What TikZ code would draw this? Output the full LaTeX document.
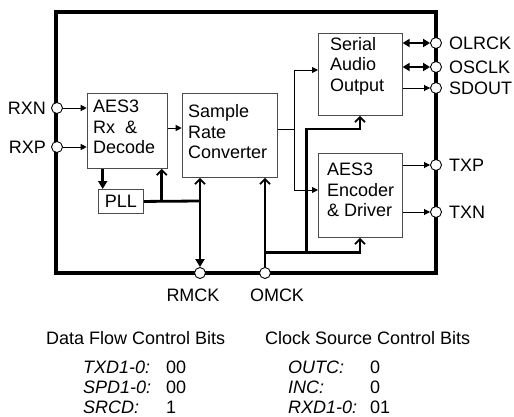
\documentclass[tikz,border=0pt]{standalone}
\usepackage{fontspec}
\setmainfont{Liberation Sans}
\usetikzlibrary{arrows.meta}
\begin{document}
\begin{tikzpicture}[x=1pt,y=-1pt,
  every node/.style={font=\fontsize{18}{20.5}\selectfont, inner sep=0pt},
  blk/.style={draw=black!70, line width=0.9pt, anchor=north west},
  pin/.style={circle, draw=black, fill=white, line width=0.9pt, minimum size=11pt},
  thinarr/.style={line width=0.9pt, -{Triangle[length=6pt,width=6pt]}},
  thinline/.style={line width=0.9pt},
  thickline/.style={line width=2.8pt},
  clkin/.style={line width=2.8pt, -{Straight Barb[length=5pt,width=10pt,line width=1.8pt]}},
  dblarr/.style={line width=2.8pt, {Triangle[length=7pt,width=8pt]}-{Triangle[length=7pt,width=8pt]}},
  lbl/.style={align=left, anchor=west},
  bits/.style={anchor=west, font=\fontsize{18}{20.5}\selectfont\itshape}
]
\useasboundingbox (0,0) rectangle (514,417);
% frame
\draw[line width=4.5pt] (56,12) rectangle (436,273);
% blocks
\node[blk, minimum width=80pt, minimum height=75pt] (aes) at (86.7,93) {};
\node[blk, minimum width=95pt, minimum height=84pt] (src) at (181.7,93) {};
\node[blk, minimum width=45pt, minimum height=24pt] (pll) at (98,189) {};
\node[blk, minimum width=83.7pt, minimum height=82pt] (sao) at (318,33) {};
\node[blk, minimum width=83.7pt, minimum height=84pt] (enc) at (318,153) {};
% block texts
\node[lbl] (aest) at (93,127) {AES3\\Rx\ \ \&\\Decode};
\node[lbl] (srct) at (188,132) {Sample\\Rate\\Converter};
\node (pllt) at (pll.center) {PLL};
\node[lbl] (saot) at (330,66) {Serial\\Audio\\Output};
\node[lbl] (enct) at (327,190) {AES3\\Encoder\\\& Driver};
% pins
\node[pin] (rxn) at (57,108) {};
\node[pin] (rxp) at (57,147) {};
\node[pin] (olrck) at (436,43) {};
\node[pin] (osclk) at (436,67) {};
\node[pin] (sdout) at (436,88) {};
\node[pin] (txp) at (436,165) {};
\node[pin] (txn) at (436,212) {};
\node[pin] (rmck) at (200,273) {};
\node[pin] (omck) at (265,273) {};
% pin labels
\node[anchor=east] (rxnl) at (46,108) {RXN};
\node[anchor=east] (rxpl) at (46,147) {RXP};
\node[anchor=west] (olrckl) at (449,43) {OLRCK};
\node[anchor=west] (osclkl) at (449,67) {OSCLK};
\node[anchor=west] (sdoutl) at (449,88) {SDOUT};
\node[anchor=west] (txpl) at (449,165) {TXP};
\node[anchor=west] (txnl) at (449,212) {TXN};
\node (rmckl) at (193,295) {RMCK};
\node (omckl) at (277,295) {OMCK};
% data inputs
\draw[thinarr] (rxn) -- (rxn -| aes.west);
\draw[thinarr] (rxp) -- (rxp -| aes.west);
\draw[thinarr] (aes.east |- 0,128) -- (src.west |- 0,128);
% SRC output distribution
\coordinate (split) at (294,129);
\draw[thinline] (src.east |- split) -- (split);
\draw[thinline] (294,70) -- (294,190);
\draw[thinarr] (294,70) -- (sao.west |- 0,70);
\draw[thinarr] (294,190) -- (enc.west |- 0,190);
% outputs
\draw[dblarr] (sao.east |- olrck) -- (olrck.west);
\draw[dblarr] (sao.east |- osclk) -- (osclk.west);
\draw[thinarr] (sao.east |- sdout) -- (sdout.west);
\draw[thinarr] (enc.east |- txp) -- (txp.west);
\draw[thinarr] (enc.east |- txn) -- (txn.west);
% PLL / RMCK
\draw[thickline, -{Triangle[length=8pt,width=9pt]}] (aes.south -| 102.7,0) -- (pll.north -| 102.7,0);
\coordinate (pllj) at (200,201);
\draw[thickline] (pll.east) -- (pllj);
\draw[clkin] (161.7,201) -- (aes.south -| 161.7,0);
\draw[line width=2.8pt, {Straight Barb[length=5pt,width=10pt,line width=1.8pt]}-{Triangle[length=8pt,width=9pt]}] (src.south -| rmck) -- (rmck.north);
% OMCK distribution
\draw[clkin] (omck.north) -- (omck |- src.south);
\coordinate (oj) at (265,252.7);
\draw[clkin] (oj) -- (360,252.7) -- (enc.south -| 360,0);
\draw[clkin] (306.7,252.7) -- (306.7,129) -- (360,129) -- (sao.south -| 360,0);
% control bits
\node[anchor=west] (dfh) at (46,338) {Data Flow Control Bits};
\node[anchor=west] (csh) at (265,338) {Clock Source Control Bits};
\node[bits] (b1) at (83,367) {TXD1-0:};
\node[bits] (b2) at (83,387) {SPD1-0:};
\node[bits] (b3) at (83,407) {SRCD:};
\node[anchor=west] (v1) at (166,367) {00};
\node[anchor=west] (v2) at (166,387) {00};
\node[anchor=west] (v3) at (166,407) {1};
\node[bits] (c1) at (288,367) {OUTC:};
\node[bits] (c2) at (288,387) {INC:};
\node[bits] (c3) at (288,407) {RXD1-0:};
\node[anchor=west] (w1) at (370,367) {0};
\node[anchor=west] (w2) at (370,387) {0};
\node[anchor=west] (w3) at (370,407) {01};
\end{tikzpicture}
\end{document}
